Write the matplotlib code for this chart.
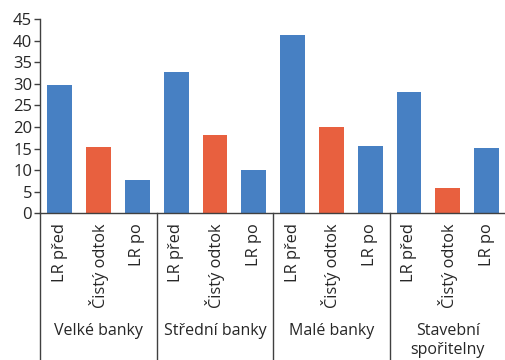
import matplotlib
matplotlib.use("Agg")
import matplotlib.pyplot as plt
from matplotlib.transforms import blended_transform_factory
from matplotlib.lines import Line2D

plt.rcParams['font.family'] = ['Open Sans', 'DejaVu Sans']

groups = ["Velké banky", "Střední banky", "Malé banky", "Stavební\nspořitelny"]
bar_labels = ["LR před", "Čistý odtok", "LR po"]
values = [
    [29.7, 15.4, 7.6],
    [32.8, 18.2, 10.0],
    [41.4, 20.0, 15.7],
    [28.1, 5.9, 15.2],
]
yticks = [0, 5, 10, 15, 20, 25, 30, 35, 40, 45]

blue = "#4780C3"
red = "#E8603F"
bar_colors = [blue, red, blue]
text_color = "#262626"
axis_color = "#404040"

fig = plt.figure(figsize=(5.06, 3.60), dpi=100)
ax = fig.add_axes([40.5 / 506, 1 - 213.3 / 360, (506 - 40.5) / 506, 194.3 / 360])

xs, hs, cs, labs = [], [], [], []
for gi, vals in enumerate(values):
    for bi, v in enumerate(vals):
        xs.append(gi * 3 + bi)
        hs.append(v)
        cs.append(bar_colors[bi])
        labs.append(bar_labels[bi])

ax.bar(xs, hs, width=0.64, color=cs, zorder=2)

ax.set_xlim(-0.5, len(xs) - 0.5)
ax.set_ylim(0, 45)
ax.set_yticks(yticks)
ax.set_yticklabels([str(t) for t in yticks], fontsize=12, color=text_color)
ax.tick_params(axis='y', length=4, width=1, color=axis_color, pad=2)

ax.set_xticks(xs)
ax.set_xticklabels(labs, rotation=90, fontsize=11.8, color=text_color)
ax.tick_params(axis='x', length=0, pad=7)

for s in ["top", "right"]:
    ax.spines[s].set_visible(False)
for s in ["left", "bottom"]:
    ax.spines[s].set_color(axis_color)
    ax.spines[s].set_linewidth(1)

# group separators running down through the category labels
trans = blended_transform_factory(ax.transData, fig.transFigure)
y_axis_fig = 1 - 213.3 / 360
for gi in range(len(groups) + 1):
    xline = gi * 3 - 0.5
    fig.add_artist(Line2D([xline, xline], [0, y_axis_fig], transform=trans,
                          color=axis_color, lw=1))

for gi, g in enumerate(groups):
    fig.text(gi * 3 + 1, 1 - 323 / 360, g, transform=trans, ha='center',
             va='top', fontsize=11.5, color=text_color, linespacing=1.25)

fig.savefig("out.png", dpi=100)
